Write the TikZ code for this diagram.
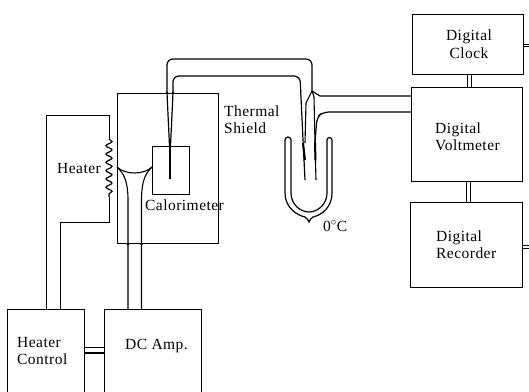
\documentclass[tikz,border=0pt]{standalone}
\usepackage{fontspec}
\setmainfont[LetterSpace=3]{Liberation Serif}
\usetikzlibrary{decorations.pathmorphing,calc}
\tikzset{
  boxn/.style={draw,line width=1.2pt,inner sep=0pt,anchor=north west},
  lbl/.style={inner sep=0pt,align=left,font=\fontsize{15.5}{17.5}\selectfont,anchor=west},
  bus/.style={line width=1pt},
  pt/.style={circle,fill,inner sep=0pt,minimum size=3pt}
}
\begin{document}
\begin{tikzpicture}[x=1pt,y=-1pt]
\clip (0,0) rectangle (529,391);
\fill[white] (0,0) rectangle (529,391);
% boxes
\node[boxn,minimum width=111pt,minimum height=60pt] (clock) at (412,14) {};
\node[boxn,minimum width=111pt,minimum height=94pt] (volt) at (411,87) {};
\node[boxn,minimum width=112pt,minimum height=85pt] (rec) at (410,202) {};
\node[boxn,minimum width=101pt,minimum height=150pt] (shield) at (117,93) {};
\node[boxn,minimum width=37pt,minimum height=48pt] (cal) at (152,146) {};
\node[boxn,minimum width=77pt,minimum height=100pt] (hc) at (7,309) {};
\node[boxn,minimum width=97pt,minimum height=100pt] (dc) at (104,309) {};
% labels
\node[lbl,align=center,anchor=center] (tclock) at (469,44) {Digital\\Clock};
\node[lbl] (tvolt) at (435,136.5) {Digital\\Voltmeter};
\node[lbl] (trec) at (436,244.5) {Digital\\Recorder};
\node[lbl] (tshield) at (224,119.5) {Thermal\\Shield};
\node[lbl] (theater) at (57,168) {Heater};
\node[lbl] (tcal) at (145,205) {Calorimeter};
\node[lbl] (thc) at (17,351) {Heater\\Control};
\node[lbl] (tdc) at (125,346) {DC Amp.};
\node[lbl] (tzero) at (323,226) {0$^\circ$C};
% digital buses
\foreach \x in {467,471}
  \draw[bus] (clock.south -| \x,0) -- (volt.north -| \x,0);
\foreach \x in {466,470}
  \draw[bus] (volt.south -| \x,0) -- (rec.north -| \x,0);
\coordinate (ce) at (529,44);
\coordinate (cf) at (529,46.5);
\coordinate (re) at (529,245);
\coordinate (rf) at (529,248);
\draw[bus] (clock.east |- ce) -- (ce);
\draw[bus] (clock.east |- cf) -- (cf);
\draw[bus] (rec.east |- re) -- (re);
\draw[bus] (rec.east |- rf) -- (rf);
\coordinate (hcd1) at (0,347);
\coordinate (hcd2) at (0,353);
\draw[line width=1pt] (hc.east |- hcd1) -- (dc.west |- hcd1);
\draw[line width=1.6pt] (hc.east |- hcd2) -- (dc.west |- hcd2);
% heater circuit
\coordinate (h1) at (46,115);
\coordinate (h2) at (109,115);
\coordinate (z1) at (109,139);
\coordinate (z2) at (109,197);
\coordinate (h3) at (109,222);
\coordinate (h4) at (60,222);
\draw[line width=1pt] (hc.north -| h1) -- (h1) -- (h2) -- (z1);
\draw[line width=1.2pt,decorate,decoration={snake,segment length=8.3pt,amplitude=3pt}] (z1) -- (z2);
\draw[line width=1pt] (z2) -- (h3) -- (h4) -- (hc.north -| h4);
% amplifier pair into calorimeter
\coordinate (a1) at (117,167);
\coordinate (a2) at (152,167);
\coordinate (c1) at (128,200);
\coordinate (c2) at (141.5,200);
\draw[line width=1.1pt] (a1) .. controls (122,172) and (128,178) .. (c1) -- (dc.north -| c1);
\draw[line width=1.1pt] (a2) .. controls (147,172) and (141.5,178) .. (c2) -- (dc.north -| c2);
\draw[line width=1.1pt] (a1) .. controls (125,175) and (144,175) .. (a2);
% thermocouple
\coordinate (j) at (312,91);
\coordinate (t1a) at (167,59);
\coordinate (t1b) at (312,59);
\coordinate (t2a) at (173,76);
\coordinate (t2b) at (300,76);
\coordinate (e1) at (170,179);
\coordinate (e2) at (305,180);
\coordinate (e3) at (316,180);
\coordinate (v1) at (0,96);
\coordinate (v2) at (0,112);
\draw[line width=1.2pt,rounded corners=6pt] (169.5,146) -- (167,93) -- (t1a) -- (t1b) -- (j);
\draw[line width=1.2pt,rounded corners=6pt] (170.5,146) -- (173,93) -- (t2a) -- (t2b) -- (303,140) -- (e2);
\draw[line width=2.4pt] (170,146) -- (170,170);
\draw[line width=1.1pt] (170,170) -- (e1);
\draw[line width=1.1pt] (j) -- (306,103) -- (305,143);
\draw[line width=1.1pt] (j) -- (314,97) -- (315,143) -- (e3);
\draw[line width=1.2pt,rounded corners=6pt] (volt.west |- v2) -- (323,112) -- (317,117) -- (315,143);
\draw[line width=1.2pt] (j) -- (320,96) -- (volt.west |- v1);
\draw[line width=2pt] (303,143) -- (305,160);
\draw[line width=2pt] (315,143) -- (315.5,160);
% dots where wires cross shield
\foreach \p in {167,173}
  \node[pt] at (shield.north -| \p,0) {};
\foreach \p in {128,141.5}
  \node[pt] at (shield.south -| \p,0) {};
% dewar
\draw[line width=1.2pt] (285,193) -- (285,140) arc (180:360:3) -- (291,193)
  .. controls (291,204) and (300,212) .. (309,212)
  .. controls (318,212) and (327,204) .. (327,193) -- (327,140) arc (180:360:2.5) -- (332,193)
  .. controls (332,207) and (322,215) .. (313,217)
  .. controls (311,218) and (310,220) .. (309,222)
  .. controls (308,220) and (307,218) .. (305,217)
  .. controls (296,215) and (285,207) .. (285,193) -- cycle;
\end{tikzpicture}
\end{document}
